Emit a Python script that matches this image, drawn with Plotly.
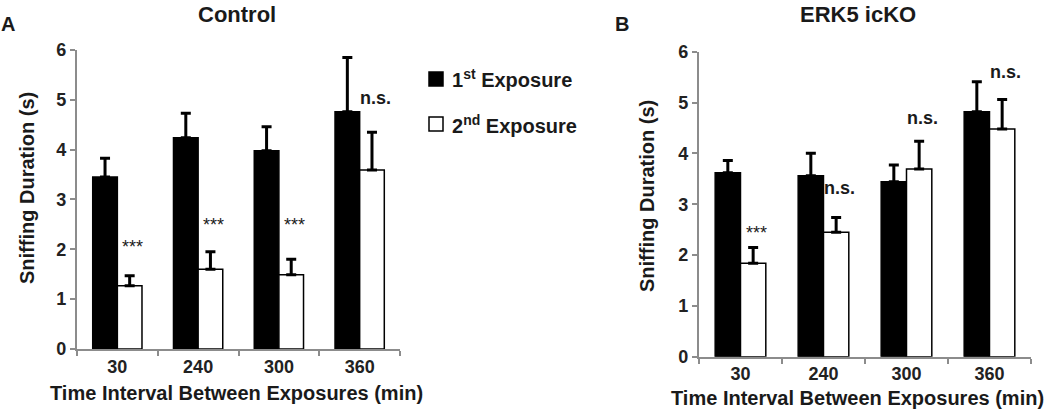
import plotly.graph_objects as go

intervals = ['30', '240', '300', '360']

ctrl_first = [3.45, 4.24, 3.98, 4.76]
ctrl_first_err = [0.38, 0.49, 0.48, 1.09]
ctrl_second = [1.27, 1.60, 1.49, 3.59]
ctrl_second_err = [0.20, 0.35, 0.31, 0.76]
ctrl_marks = ['***', '***', '***', 'n.s.']
ctrl_mark_y = [2.05, 2.48, 2.48, 5.04]

ko_first = [3.62, 3.56, 3.44, 4.82]
ko_first_err = [0.24, 0.44, 0.33, 0.59]
ko_second = [1.84, 2.45, 3.69, 4.48]
ko_second_err = [0.31, 0.29, 0.55, 0.58]
ko_marks = ['***', 'n.s.', 'n.s.', 'n.s.']
ko_mark_y = [2.43, 3.31, 4.69, 5.61]

FONT = 'Liberation Sans, Arial, sans-serif'


def bar(y, err, fill, xa, ya):
    return go.Bar(
        x=intervals, y=y, xaxis=xa, yaxis=ya,
        marker=dict(color=fill, line=dict(color='black', width=1.5)),
        error_y=dict(type='data', symmetric=False, array=err,
                     arrayminus=[0] * len(err), color='black',
                     thickness=3, width=5),
        showlegend=False,
    )


fig = go.Figure()
fig.add_trace(bar(ctrl_first, ctrl_first_err, 'black', 'x', 'y'))
fig.add_trace(bar(ctrl_second, ctrl_second_err, 'white', 'x', 'y'))
fig.add_trace(bar(ko_first, ko_first_err, 'black', 'x2', 'y2'))
fig.add_trace(bar(ko_second, ko_second_err, 'white', 'x2', 'y2'))

tickfont = dict(family=FONT, size=18, color='#222', weight='bold')
xcommon = dict(type='category', range=[-0.5, 3.5], showline=True,
               linecolor='#8c8c8c', linewidth=2, ticks='outside',
               tickson='boundaries', ticklen=5, tickcolor='#8c8c8c',
               tickwidth=2, showgrid=False, zeroline=False,
               automargin=False, tickfont=tickfont)
ycommon = dict(range=[0, 6], dtick=1, showline=True, linecolor='#8c8c8c',
               linewidth=2, ticks='outside', ticklen=5, tickcolor='#8c8c8c',
               tickwidth=2, showgrid=False, zeroline=False,
               automargin=False, tickfont=tickfont)

fig.update_layout(
    template='none',
    width=1050, height=409, autosize=False,
    margin=dict(l=0, r=0, t=0, b=0, pad=0),
    paper_bgcolor='white', plot_bgcolor='white',
    barmode='group', bargap=0.39, bargroupgap=0,
    xaxis=dict(domain=[0.0733, 0.381], anchor='y', **xcommon),
    yaxis=dict(domain=[0.1467, 0.8778], anchor='x', **ycommon),
    xaxis2=dict(domain=[0.6657, 0.9819], anchor='y2', **xcommon),
    yaxis2=dict(domain=[0.1279, 0.8736], anchor='x2', **ycommon),
)

ann = []


def text(x, y, s, size, bold=True, angle=0, yanchor='middle'):
    ann.append(dict(x=x / 1050, y=1 - y / 409, xref='paper', yref='paper',
                    text=f'<b>{s}</b>' if bold else s, showarrow=False,
                    textangle=angle, xanchor='center', yanchor=yanchor,
                    font=dict(family=FONT, size=size, color='#1a1a1a')))


text(237, 0, 'Control', 22, yanchor='top')
text(858, 0, 'ERK5 icKO', 22, yanchor='top')
text(8, 24, 'A', 20)
text(622, 24, 'B', 20)
text(27, 188, 'Sniffing Duration (s)', 20, angle=-90)
text(647, 196, 'Sniffing Duration (s)', 20, angle=-90)
text(237, 393, 'Time Interval Between Exposures (min)', 20)
text(857, 398, 'Time Interval Between Exposures (min)', 20)

for xa, ya, marks, ys in [('x', 'y', ctrl_marks, ctrl_mark_y),
                          ('x2', 'y2', ko_marks, ko_mark_y)]:
    for i, (m, yv) in enumerate(zip(marks, ys)):
        bold = m != '***'
        ann.append(dict(x=i + 0.19, y=yv, xref=xa, yref=ya,
                        text=f'<b>{m}</b>' if bold else m, showarrow=False,
                        xanchor='center', yanchor='middle',
                        font=dict(family=FONT, size=18, color='#1a1a1a')))

# legend
legend_items = [('1<sup>st</sup> Exposure', 'black', 79),
                ('2<sup>nd</sup> Exposure', 'white', 124)]
shapes = []
for label, fill, yc in legend_items:
    shapes.append(dict(type='rect', xref='paper', yref='paper',
                       x0=429 / 1050, x1=443 / 1050,
                       y0=1 - (yc + 7) / 409, y1=1 - (yc - 7) / 409,
                       fillcolor=fill, line=dict(color='black', width=1.5)))
    ann.append(dict(x=450 / 1050, y=1 - yc / 409, xref='paper', yref='paper',
                    text=f'<b>{label}</b>', showarrow=False,
                    xanchor='left', yanchor='middle',
                    font=dict(family=FONT, size=20, color='#1a1a1a')))

fig.update_layout(annotations=ann, shapes=shapes)

fig.write_html('out.html', config={'displayModeBar': False},
               post_script="document.body.style.margin='0';")
